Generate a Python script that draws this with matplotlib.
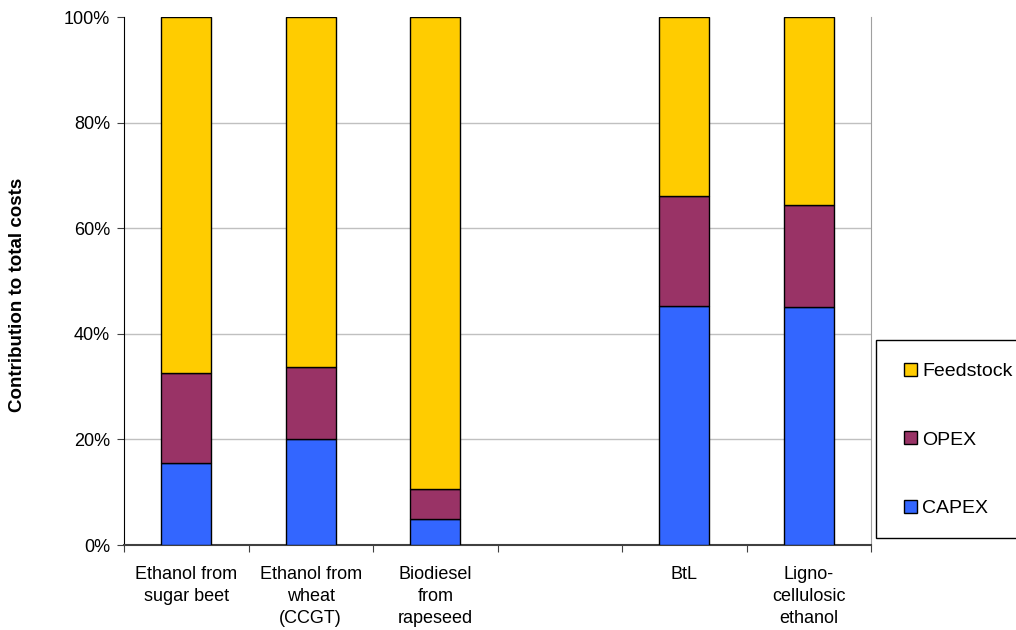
import matplotlib
matplotlib.use("Agg")
import matplotlib.pyplot as plt
import matplotlib.patches as mpatches
import numpy as np

plt.rcParams['font.family'] = ['Liberation Sans', 'DejaVu Sans']

categories = ["Ethanol from\nsugar beet", "Ethanol from\nwheat\n(CCGT)", "Biodiesel\nfrom\nrapeseed",
              "", "BtL", "Ligno-\ncellulosic\nethanol"]
# shares in % (empty slot has no bar)
capex = [15.5, 20.0, 4.9, 0, 45.3, 45.1]
opex = [17.1, 13.7, 5.7, 0, 20.8, 19.3]
feedstock = [67.4, 66.3, 89.4, 0, 33.9, 35.6]

col_capex = "#3366FF"
col_opex = "#993366"
col_feed = "#FFCC00"

fig = plt.figure(figsize=(10.16, 6.3), dpi=100)
ax = fig.add_axes([124 / 1016, 85 / 630, 747 / 1016, 528 / 630])

x = np.arange(len(categories))
capex = np.array(capex)
opex = np.array(opex)
feedstock = np.array(feedstock)
has = (capex + opex + feedstock) > 0
w = 0.4
kw = dict(width=w, edgecolor="black", linewidth=1.0, zorder=3)
b1 = ax.bar(x[has], capex[has], color=col_capex, **kw)
b2 = ax.bar(x[has], opex[has], bottom=capex[has], color=col_opex, **kw)
b3 = ax.bar(x[has], feedstock[has], bottom=(capex + opex)[has], color=col_feed, **kw)

ax.set_xlim(-0.5, len(categories) - 0.5)
ax.set_ylim(0, 100)
ax.set_yticks(np.arange(0, 101, 20))
ax.set_yticklabels([f"{v}%" for v in range(0, 101, 20)], fontsize=13)
ax.yaxis.grid(True, color="#c0c0c0", linewidth=1.0, zorder=0)
ax.set_axisbelow(True)
ax.get_ygridlines()[-1].set_visible(False)

# ticks between categories, labels centred under bars
ax.set_xticks(np.arange(len(categories) + 1) - 0.5)
ax.set_xticklabels([])
ax.set_xticks(x, minor=True)
ax.set_xticklabels(categories, minor=True, fontsize=13, linespacing=1.4)
ax.tick_params(axis="x", which="minor", length=0, pad=15)
ax.tick_params(axis="x", which="major", length=5, direction="out", color="#404040")
ax.tick_params(axis="y", length=5, direction="out", color="#404040", pad=5)

ax.spines["top"].set_visible(False)
ax.spines["right"].set_color("#a0a0a0")
ax.spines["left"].set_color("#000000")
ax.spines["bottom"].set_color("#404040")
ax.spines["bottom"].set_linewidth(1.5)

fig.text(18 / 1016, (630 - 295) / 630, "Contribution to total costs", rotation=90,
         fontsize=13.5, fontweight="bold", ha="center", va="center")

# legend box runs off the right edge, like the original
frame = mpatches.Rectangle((876 / 1016, 92 / 630), 0.2, 198 / 630, transform=fig.transFigure,
                           facecolor="white", edgecolor="black", linewidth=1.0, zorder=5)
fig.add_artist(frame)
leg = fig.legend(handles=[b3, b2, b1], labels=["Feedstock", "OPEX", "CAPEX"],
                 loc="upper left", bbox_to_anchor=(904 / 1016, (630 - 363) / 630),
                 fontsize=14, frameon=False,
                 handlelength=0.65, handleheight=0.65, handletextpad=0.3,
                 labelspacing=2.62, borderpad=0, borderaxespad=0)
leg.set_zorder(6)

fig.savefig("out.png", dpi=100)
